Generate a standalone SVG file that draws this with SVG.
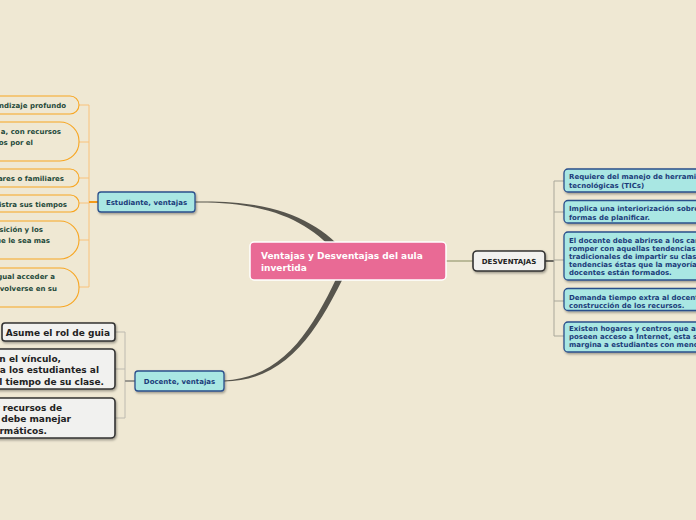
<svg xmlns="http://www.w3.org/2000/svg" width="696" height="520" viewBox="0 0 696 520">
<defs>
<filter id="sh" x="-10%" y="-20%" width="130%" height="160%">
<feDropShadow dx="1" dy="1.5" stdDeviation="0.8" flood-color="#000" flood-opacity="0.35"/>
</filter>
<style>
text{font-family:"DejaVu Sans",Verdana,sans-serif;font-weight:bold}
.teal{fill:#a9e7e3;stroke:#2b4f8c;stroke-width:1.3}
.tt{fill:#1b3c7a;font-size:7px}
.gray{fill:#f1f1ef;stroke:#333;stroke-width:1.6}
.gt{fill:#222;font-size:9px}
.orn{fill:#efe8d3;stroke:#f7a623;stroke-width:1.1}
.ot{fill:#1f4a3a;font-size:7px}
.thin{fill:none;stroke-width:1}
</style>
</defs>
<rect width="696" height="520" fill="#efe8d3"/>
<g id="connectors">
<path d="M195,201.5 C280,199.5 322,223 351,259 L345,264 C318,228 280,201.5 195,202.5 Z" fill="#57554d"/>
<path d="M224,380.5 C290,377.5 318,318 345,260 L351,262 C322,322 292,381 224,381.5 Z" fill="#57554d"/>
<line x1="446" y1="261" x2="473" y2="261" stroke="#a9aa84" stroke-width="1.5"/>
<line x1="545" y1="261" x2="554" y2="261" stroke="#6a6860" stroke-width="2"/>
<path class="thin" stroke="#a9a79a" d="M554,181 V336 M554,181 H564 M554,212 H564 M554,260 H564 M554,301 H564 M554,336 H564"/>
<path class="thin" stroke="#f9c27a" d="M89,105 V287 M79,105 H89 M79,142 H89 M79,178 H89 M79,203 H89 M79,240 H89 M79,287 H89"/>
<line x1="89" y1="202" x2="98" y2="202" stroke="#f59b1a" stroke-width="2"/>
<path class="thin" stroke="#bdbab0" d="M125,332 V418 M115,332 H125 M115,369 H125 M115,418 H125"/>
<line x1="125" y1="381" x2="135" y2="381" stroke="#9a988f" stroke-width="2"/>
</g>
<g id="center">
<rect x="250" y="242" width="196" height="38" rx="4" fill="#e96a95" stroke="#fff" stroke-width="1.5"/>
<text x="261" y="259" fill="#fff" font-size="9">Ventajas y Desventajas del aula</text>
<text x="261" y="270.5" fill="#fff" font-size="9">invertida</text>
</g>
<g id="desventajas">
<rect x="473" y="251" width="72" height="20" rx="4" class="gray" filter="url(#sh)"/>
<text x="509" y="264" text-anchor="middle" fill="#222" font-size="7">DESVENTAJAS</text>
</g>
<g id="d1">
<rect x="564" y="169" width="150" height="23" rx="4" class="teal" filter="url(#sh)"/>
<text class="tt" x="569" y="179">Requiere del manejo de herrami</text>
<text class="tt" x="569" y="187.5">tecnológicas (TICs)</text>
</g>
<g id="d2">
<rect x="564" y="200.5" width="150" height="22.5" rx="4" class="teal" filter="url(#sh)"/>
<text class="tt" x="569" y="211">Implica una interiorización sobre</text>
<text class="tt" x="569" y="219.5">formas de planificar.</text>
</g>
<g id="d3">
<rect x="564" y="232" width="150" height="48" rx="4" class="teal" filter="url(#sh)"/>
<text class="tt" x="569" y="242.5">El docente debe abrirse a los can</text>
<text class="tt" x="569" y="250.7">romper con aquellas tendencias</text>
<text class="tt" x="569" y="258.9">tradicionales de impartir su clas</text>
<text class="tt" x="569" y="267.1">tendencias éstas que la mayoría</text>
<text class="tt" x="569" y="275.3">docentes están formados.</text>
</g>
<g id="d4">
<rect x="564" y="288.5" width="150" height="22" rx="4" class="teal" filter="url(#sh)"/>
<text class="tt" x="569" y="299.5">Demanda tiempo extra al docent</text>
<text class="tt" x="569" y="307.7">construcción de los recursos.</text>
</g>
<g id="d5">
<rect x="564" y="322" width="150" height="30" rx="4" class="teal" filter="url(#sh)"/>
<text class="tt" x="569" y="331">Existen hogares y centros que ar</text>
<text class="tt" x="569" y="339">poseen acceso a Internet, esta s</text>
<text class="tt" x="569" y="347">margina a estudiantes con meno</text>
</g>
<g id="estudiante">
<rect x="98" y="192" width="97" height="20" rx="3" class="teal" filter="url(#sh)"/>
<text class="tt" x="146.5" y="205" text-anchor="middle">Estudiante, ventajas</text>
</g>
<g id="docente">
<rect x="135" y="371" width="89" height="20" rx="3" class="teal" filter="url(#sh)"/>
<text class="tt" x="179.5" y="384" text-anchor="middle">Docente, ventajas</text>
</g>
<g id="e1">
<rect x="-150" y="96" width="229" height="18" rx="9" class="orn"/>
<text class="ot" x="66" y="107.5" text-anchor="end">ndizaje profundo</text>
</g>
<g id="e2">
<rect x="-150" y="122" width="229" height="39" rx="19" class="orn"/>
<text class="ot" x="61" y="134" text-anchor="end">a, con recursos</text>
<text class="ot" x="33" y="145" text-anchor="end">os por el</text>
</g>
<g id="e3">
<rect x="-150" y="169" width="229" height="18" rx="9" class="orn"/>
<text class="ot" x="64" y="181" text-anchor="end">ares o familiares</text>
</g>
<g id="e4">
<rect x="-150" y="195" width="229" height="17" rx="8.5" class="orn"/>
<text class="ot" x="67" y="206.5" text-anchor="end">istra sus tiempos</text>
</g>
<g id="e5">
<rect x="-150" y="221" width="229" height="38" rx="19" class="orn"/>
<text class="ot" x="43" y="231.5" text-anchor="end">sición y los</text>
<text class="ot" x="50" y="242.5" text-anchor="end">ue le sea mas</text>
</g>
<g id="e6">
<rect x="-150" y="268" width="229" height="39" rx="19" class="orn"/>
<text class="ot" x="55" y="279" text-anchor="end">igual acceder a</text>
<text class="ot" x="57" y="291" text-anchor="end">volverse en su</text>
</g>
<g id="p1">
<rect x="2" y="323" width="113" height="18" rx="3" class="gray" filter="url(#sh)"/>
<text class="gt" x="110" y="335.5" text-anchor="end">Asume el rol de guia</text>
</g>
<g id="p2">
<rect x="-100" y="349" width="215" height="40" rx="4" class="gray" filter="url(#sh)"/>
<text class="gt" x="61" y="361.5" text-anchor="end">n el vínculo,</text>
<text class="gt" x="99" y="373" text-anchor="end">a los estudiantes al</text>
<text class="gt" x="104" y="384.5" text-anchor="end">el tiempo de su clase.</text>
</g>
<g id="p3">
<rect x="-100" y="398" width="215" height="40" rx="4" class="gray" filter="url(#sh)"/>
<text class="gt" x="62" y="410.5" text-anchor="end">r recursos de</text>
<text class="gt" x="71" y="421.5" text-anchor="end">debe manejar</text>
<text class="gt" x="47" y="433.5" text-anchor="end">ormáticos.</text>
</g>
</svg>
